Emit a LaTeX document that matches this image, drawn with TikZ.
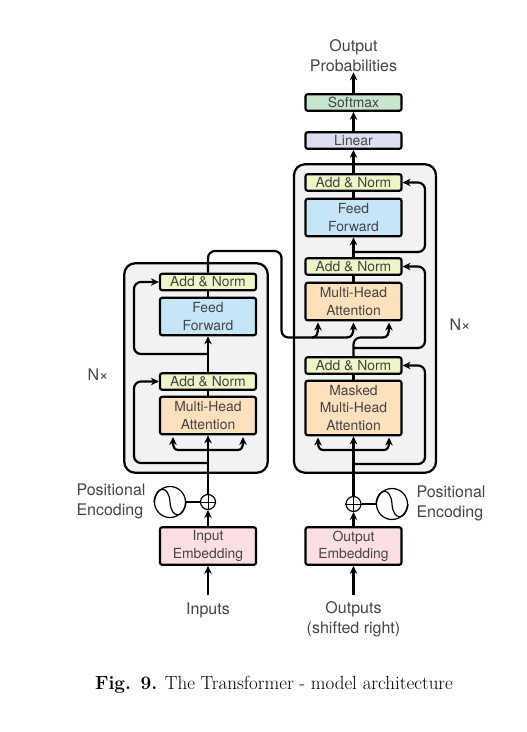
\documentclass[tikz,border=0pt]{standalone}
\usepackage{fontspec}
\setsansfont{TeX Gyre Heros}
\usetikzlibrary{arrows.meta,calc}
\definecolor{boxgray}{HTML}{F2F2F2}
\definecolor{addnorm}{HTML}{F0F5C8}
\definecolor{feedfw}{HTML}{C4E6F6}
\definecolor{attn}{HTML}{FDE0BC}
\definecolor{embed}{HTML}{FCDFE2}
\definecolor{linbox}{HTML}{DCDFF0}
\definecolor{softbox}{HTML}{C8E6CC}
\definecolor{labelc}{HTML}{444444}
\tikzset{
  px/.style={x=1pt,y=-1pt},
  block/.style={draw=black,line width=2.2pt,rounded corners=2.2pt,minimum width=96pt,inner sep=0pt,align=center,font=\sffamily\fontsize{13.9}{17.2}\selectfont,text=labelc},
  thin block/.style={block,minimum height=16.5pt},
  tall block/.style={block,minimum height=37.5pt},
  huge block/.style={block,minimum height=54.5pt},
  stack/.style={draw=black,line width=2.2pt,fill=boxgray,rounded corners=11pt,inner sep=0pt},
  txt/.style={font=\sffamily\fontsize{16}{20}\selectfont,text=labelc,align=center,inner sep=0pt},
  link/.style={line width=2.2pt,rounded corners=7pt},
  tipped/.style={-{Stealth[length=8pt,width=7.5pt]}},
  arrow/.style={link,tipped},
  curved/.style={line width=2.2pt,tipped},
  plain/.style={draw=black,circle,line width=1.2pt,fill=white,inner sep=0pt},
}
\begin{document}
\begin{tikzpicture}[px]
\useasboundingbox (0,0) rectangle (527,732);
% stacks
\node[stack,minimum width=143.5pt,minimum height=209.5pt] (encstack) at (196,368) {};
\node[stack,minimum width=142pt,minimum height=308.5pt] (decstack) at (365,318.5) {};
% free coordinates
\coordinate (inS) at (208,595);
\coordinate (outS) at (353.5,595);
\coordinate (eb) at (208,463);
\coordinate (ef) at (208,450);
\coordinate (ea) at (173,437);
\coordinate (ec) at (243,437);
\coordinate (eu) at (208,354);
\coordinate (db) at (353.5,464);
\coordinate (df) at (353.5,450);
\coordinate (da) at (318,437.5);
\coordinate (dc) at (389,437.5);
\coordinate (dm) at (353.5,348);
\coordinate (du) at (353.5,252);
\coordinate (ma) at (318,322.5);
\coordinate (mb) at (353.5,322.5);
\coordinate (mc) at (389,322.5);
% encoder blocks
\node[thin block,fill=addnorm] (ean2) at (208,282) {Add \& Norm};
\node[tall block,fill=feedfw] (eff) at (208,316.5) {Feed\\Forward};
\node[thin block,fill=addnorm] (ean1) at (208,381.5) {Add \& Norm};
\node[tall block,fill=attn] (emha) at (208,415.5) {Multi-Head\\Attention};
\node[tall block,fill=embed] (eemb) at (208,546) {Input\\Embedding};
% decoder blocks
\node[thin block,fill=softbox] (soft) at (353.5,102.5) {Softmax};
\node[thin block,fill=linbox] (lin) at (353.5,140.5) {Linear};
\node[thin block,fill=addnorm] (dan3) at (353.5,182.5) {Add \& Norm};
\node[tall block,fill=feedfw] (dff) at (353.5,217.5) {Feed\\Forward};
\node[thin block,fill=addnorm] (dan2) at (353.5,266.5) {Add \& Norm};
\node[tall block,fill=attn] (dmha) at (353.5,301.5) {Multi-Head\\Attention};
\node[thin block,fill=addnorm] (dan1) at (353.5,365.5) {Add \& Norm};
\node[huge block,fill=attn] (dmask) at (353.5,408) {Masked\\Multi-Head\\Attention};
\node[tall block,fill=embed] (demb) at (353.5,546) {Output\\Embedding};
% texts
\node[txt] (outp) at (353.5,56) {Output\\Probabilities};
\node[txt] (inl) at (208,610) {Inputs};
\node[txt] (outl) at (353.5,619.5) {Outputs\\(shifted right)};
\node[txt,align=left] (pel) at (111,501.5) {Positional\\Encoding};
\node[txt,align=left] (per) at (451,503.5) {Positional\\Encoding};
\node[txt] (nl) at (98,375) {N×};
\node[txt] (nr) at (460,325) {N×};
\node[inner sep=0pt,font=\fontsize{19}{21}\selectfont] (cap) at (274,684.5) {\textbf{Fig. 9.} The Transformer - model architecture};
% main flow, encoder
\draw[arrow] (inS) -- (eemb.south);
\draw[arrow] (eemb.north) -- (208,510);
\draw[arrow] (208,494) -- (emha.south);
\draw[link] (emha.north) -- (ean1.south);
\draw[arrow] (ean1.north) -- (eff.south);
\draw[link] (eff.north) -- (ean2.south);
% forks, encoder
\draw[curved] (ef) -- (178,450) .. controls (174,450) and (173,446) .. (ea);
\draw[curved] (ef) -- (238,450) .. controls (242,450) and (243,446) .. (ec);
\draw[arrow] (eb) -- (134,463) -- (134,381.5) -- (ean1.west);
\draw[arrow] (eu) -- (134,354) -- (134,282) -- (ean2.west);
% encoder to decoder
\draw[link] (ean2.north) -- (208,251) -- (281.5,251) -- (281.5,337.5) -- (347,337.5);
\draw[curved] (347,337.5) .. controls (352,337.5) and (353.5,333) .. (mb);
\draw[curved] (312,337.5) .. controls (317,337.5) and (318,333) .. (ma);
% main flow, decoder
\draw[arrow] (outS) -- (demb.south);
\draw[arrow] (demb.north) -- (353.5,512);
\draw[arrow] (353.5,496) -- (dmask.south);
\draw[link] (dmask.north) -- (dan1.south);
\draw[link] (dan1.north) -- (353.5,337.5) -- (383,337.5);
\draw[curved] (383,337.5) .. controls (388,337.5) and (389,333) .. (mc);
\draw[link] (dmha.north) -- (dan2.south);
\draw[arrow] (dan2.north) -- (dff.south);
\draw[link] (dff.north) -- (dan3.south);
\draw[arrow] (dan3.north) -- (lin.south);
\draw[arrow] (lin.north) -- (soft.south);
\draw[arrow] (soft.north) -- (outp.south);
% forks, decoder
\draw[curved] (df) -- (323,450) .. controls (319,450) and (318,446) .. (da);
\draw[curved] (df) -- (384,450) .. controls (388,450) and (389,446) .. (dc);
\draw[arrow] (db) -- (425,464) -- (425,365.5) -- (dan1.east);
\draw[arrow] (dm) -- (425,348) -- (425,266.5) -- (dan2.east);
\draw[arrow] (du) -- (425,252) -- (425,182.5) -- (dan3.east);
% positional encoding
\node[plain,minimum size=15pt] (eplus) at (208,502) {};
\node[plain,minimum size=15pt] (dplus) at (353.5,504) {};
\node[plain,minimum size=31pt] (esin) at (170,502) {};
\node[plain,minimum size=31pt] (dsin) at (392,504) {};
\draw[line width=1pt] (eplus.north)--(eplus.south) (eplus.west)--(eplus.east);
\draw[line width=1pt] (dplus.north)--(dplus.south) (dplus.west)--(dplus.east);
\draw[line width=1.2pt] (esin.west) .. controls ($(esin.west)+(2,-17)$) and ($(esin)+(-1,-17)$) .. (esin.center) .. controls ($(esin)+(1,17)$) and ($(esin.east)+(-2,17)$) .. (esin.east);
\draw[line width=1.2pt] (dsin.west) .. controls ($(dsin.west)+(2,-17)$) and ($(dsin)+(-1,-17)$) .. (dsin.center) .. controls ($(dsin)+(1,17)$) and ($(dsin.east)+(-2,17)$) .. (dsin.east);
\draw[link] (esin.east) -- (eplus.west);
\draw[link] (dsin.west) -- (dplus.east);
\end{tikzpicture}
\end{document}
